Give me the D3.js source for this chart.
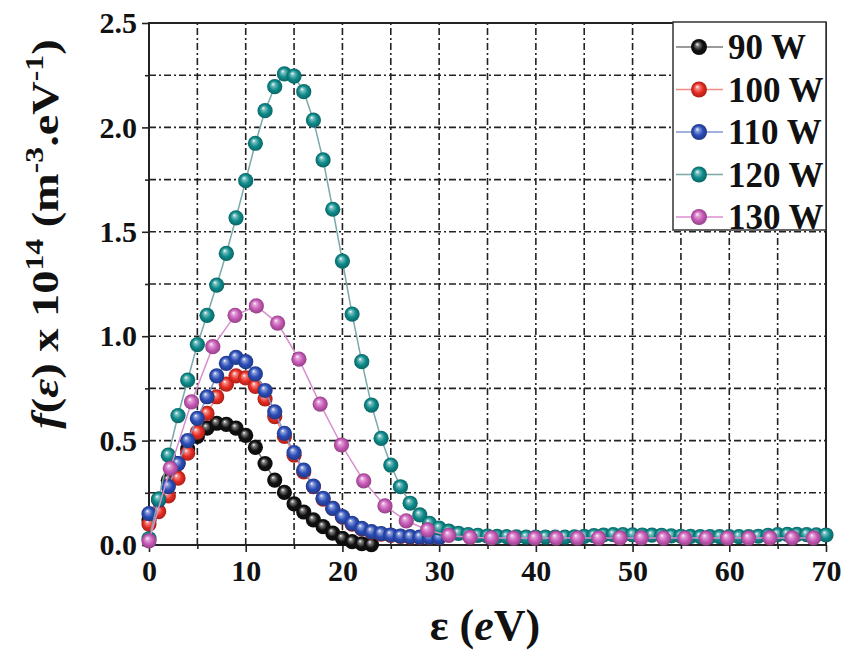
<!DOCTYPE html>
<html>
<head>
<meta charset="utf-8">
<script src="https://cdn.jsdelivr.net/npm/d3@7"></script>
<style>
  body { margin: 0; background: #fff; }
  svg { display: block; }
  text { font-family: "Liberation Serif", "Times New Roman", serif; font-weight: bold; }
</style>
</head>
<body>
<div id="chart"></div>
<script>
// energy (eV) and f(e) x 1e14 values
const seriesNames = ["90 W", "100 W", "110 W", "120 W", "130 W"];

const x90 = [0,1,2,3,4,5,6,7,8,9,10,11,12,13,14,15,16,17,18,19,20,21,22,23];
const y90 = [0.12,0.22,0.31,0.39,0.46,0.52,0.56,0.583,0.578,0.56,0.525,0.468,0.39,0.311,0.252,0.197,0.158,0.12,0.088,0.057,0.032,0.016,0.006,0.002];

const x100 = [0,1,2,3,4,5,6,7,8,9,10,11,12,13,14,15,16,17,18,19,20,21,22,23,24,25,26,27,28,29,30];
const y100 = [0.10,0.16,0.235,0.32,0.44,0.54,0.63,0.71,0.77,0.81,0.80,0.76,0.70,0.615,0.52,0.43,0.35,0.28,0.22,0.175,0.133,0.10,0.077,0.062,0.052,0.046,0.041,0.038,0.036,0.035,0.035];

const x110 = [0,1,2,3,4,5,6,7,8,9,10,11,12,13,14,15,16,17,18,19,20,21,22,23,24,25,26,27,28,29,30];
const y110 = [0.15,0.215,0.28,0.39,0.50,0.607,0.71,0.81,0.87,0.899,0.878,0.82,0.74,0.638,0.535,0.443,0.359,0.282,0.224,0.176,0.136,0.104,0.08,0.064,0.055,0.048,0.043,0.04,0.038,0.037,0.036];

const x120 = [0,1,2,3,4,5,6,7,8,9,10,11,12,13,14,15,16,17,18,19,20,21,22,23,24,25,26,27,28,29,30,
  31,32,33,34,35,36,37,38,39,40,41,42,43,44,45,46,47,48,49,50,51,52,53,54,55,56,57,58,59,60,
  61,62,63,64,65,66,67,68,69,70];
const y120 = [0.03,0.22,0.43,0.62,0.79,0.96,1.10,1.245,1.397,1.567,1.745,1.924,2.08,2.195,2.256,2.246,2.171,2.035,1.844,1.608,1.36,
  1.106,0.878,0.67,0.511,0.383,0.279,0.2,0.144,0.104,0.081,
  0.066,0.056,0.05,0.046,0.043,0.041,0.04,0.039,0.038,0.038,0.038,0.038,0.038,0.039,0.041,0.045,0.048,0.05,0.05,0.049,
  0.048,0.047,0.046,0.044,0.042,0.041,0.04,0.04,0.04,0.04,0.04,0.04,0.042,0.046,0.05,0.051,0.051,0.05,0.049,0.048];

const x130 = [0,2.2,4.4,6.6,8.9,11.1,13.3,15.5,17.7,19.9,22.2,24.4,26.6,28.8,31.0,33.2,35.4,37.7,39.9,42.1,44.3,46.5,48.7,50.9,53.2,55.4,57.6,59.8,62.0,64.2,66.5,68.7];
const y130 = [0.02,0.367,0.685,0.95,1.10,1.145,1.063,0.89,0.675,0.479,0.307,0.187,0.116,0.072,0.046,0.037,0.034,0.033,0.033,0.033,0.033,0.033,0.034,0.034,0.033,0.033,0.033,0.033,0.033,0.034,0.034,0.034];

const xTicks = [0, 10, 20, 30, 40, 50, 60, 70];
const yTicks = [0.0, 0.5, 1.0, 1.5, 2.0, 2.5];

const W = 843, H = 653;
const MARGIN = { LEFT: 149, RIGHT: 17, TOP: 23, BOTTOM: 108 };

const colors = ["#111111", "#e82c22", "#2b4db8", "#0e8b8b", "#c95ab8"];
const lineColors = ["#7a7a7a", "#f08c84", "#8097d4", "#7aa9a9", "#d88fcd"];

const svg = d3.select("#chart").append("svg")
  .attr("width", W).attr("height", H);

const x = d3.scaleLinear().domain([0, 70]).range([MARGIN.LEFT, W - MARGIN.RIGHT]);
const y = d3.scaleLinear().domain([0, 2.5]).range([H - MARGIN.BOTTOM, MARGIN.TOP]);

// sphere-like gradients
const defs = svg.append("defs");
colors.forEach((c, i) => {
  const g = defs.append("radialGradient").attr("id", "ball" + i)
    .attr("cx", "50%").attr("cy", "50%").attr("r", "50%")
    .attr("fx", "38%").attr("fy", "32%");
  g.append("stop").attr("offset", "0%").attr("stop-color", "#ffffff");
  g.append("stop").attr("offset", "22%").attr("stop-color", d3.interpolateRgb(c, "#fff")(0.45));
  g.append("stop").attr("offset", "60%").attr("stop-color", c);
  g.append("stop").attr("offset", "100%").attr("stop-color", d3.color(c).darker(0.9));
});

// grid (dash-dot, every minor step)
const grid = svg.append("g").attr("class", "grid")
  .attr("stroke", "#222").attr("stroke-width", 1.6).attr("stroke-dasharray", "7,3,2,3");
grid.selectAll("line.v").data(d3.range(5, 70, 5)).join("line")
  .attr("x1", d => x(d)).attr("x2", d => x(d))
  .attr("y1", y(0)).attr("y2", y(2.5));
grid.selectAll("line.h").data(d3.range(0.25, 2.5, 0.25)).join("line")
  .attr("y1", d => y(d)).attr("y2", d => y(d))
  .attr("x1", x(0)).attr("x2", x(70));

// axes
const xAxis = svg.append("g").attr("transform", `translate(0,${y(0)})`)
  .call(d3.axisBottom(x).tickValues(xTicks).tickSize(7).tickPadding(8).tickFormat(d3.format("d")));
svg.append("g").attr("transform", `translate(0,${y(0)})`)
  .call(d3.axisBottom(x).tickValues(d3.range(5, 70, 10)).tickSize(4).tickFormat(""));
const yAxis = svg.append("g").attr("transform", `translate(${x(0)},0)`)
  .call(d3.axisLeft(y).tickValues(yTicks).tickSize(7).tickPadding(5).tickFormat(d3.format(".1f")));
svg.append("g").attr("transform", `translate(${x(0)},0)`)
  .call(d3.axisLeft(y).tickValues(d3.range(0.25, 2.5, 0.5)).tickSize(4).tickFormat(""));

svg.selectAll(".domain").remove();
svg.selectAll(".tick line").attr("stroke", "#222").attr("stroke-width", 1.6);
xAxis.selectAll("text").attr("font-size", 30).attr("fill", "#111");
yAxis.selectAll("text").attr("font-size", 30).attr("fill", "#111");

// frame
svg.append("rect")
  .attr("x", x(0)).attr("y", y(2.5))
  .attr("width", x(70) - x(0)).attr("height", y(0) - y(2.5))
  .attr("fill", "none").attr("stroke", "#222").attr("stroke-width", 2);

// series
const allX = [x90, x100, x110, x120, x130];
const allY = [y90, y100, y110, y120, y130];
const line = d3.line().x(d => x(d[0])).y(d => y(d[1]));

allX.forEach((xs, i) => {
  const pts = xs.map((v, k) => [v, allY[i][k]]);
  const g = svg.append("g").attr("class", "series s" + i);
  g.append("path").datum(pts).attr("d", line)
    .attr("fill", "none").attr("stroke", lineColors[i]).attr("stroke-width", 1.5);
  g.selectAll("circle").data(pts).join("circle")
    .attr("cx", d => x(d[0])).attr("cy", d => y(d[1])).attr("r", 7.6)
    .attr("fill", `url(#ball${i})`);
});

// legend
const lg = svg.append("g").attr("transform", "translate(673,22)");
lg.append("rect").attr("width", 153).attr("height", 208)
  .attr("fill", "#fff").attr("stroke", "#333").attr("stroke-width", 1.5);
seriesNames.forEach((name, i) => {
  const cy = 25 + i * 42.5;
  lg.append("line").attr("x1", 3).attr("x2", 50).attr("y1", cy).attr("y2", cy)
    .attr("stroke", lineColors[i]).attr("stroke-width", 1.5);
  lg.append("circle").attr("cx", 26).attr("cy", cy).attr("r", 8).attr("fill", `url(#ball${i})`);
  lg.append("text").attr("x", 55).attr("y", cy + 12).attr("font-size", 35).attr("fill", "#111").text(name);
});

// axis titles
const xt = svg.append("text").attr("x", 485).attr("y", 640)
  .attr("text-anchor", "middle").attr("font-size", 44).attr("fill", "#111");
xt.append("tspan").text("ε (");
xt.append("tspan").attr("font-style", "italic").text("e");
xt.append("tspan").text("V)");

const yt = svg.append("text")
  .attr("transform", "translate(58,234) rotate(-90) scale(1.22,1)")
  .attr("text-anchor", "middle").attr("font-size", 38).attr("fill", "#111");
yt.append("tspan").attr("font-style", "italic").text("f");
yt.append("tspan").text("(");
yt.append("tspan").attr("font-style", "italic").text("ε");
yt.append("tspan").text(") x 10");
yt.append("tspan").attr("dy", -15).attr("font-size", 26).text("14");
yt.append("tspan").attr("dy", 15).text(" (m");
yt.append("tspan").attr("dy", -15).attr("font-size", 26).text("-3");
yt.append("tspan").attr("dy", 15).text(".eV");
yt.append("tspan").attr("dy", -15).attr("font-size", 26).text("-1");
yt.append("tspan").attr("dy", 15).text(")");
</script>
</body>
</html>
